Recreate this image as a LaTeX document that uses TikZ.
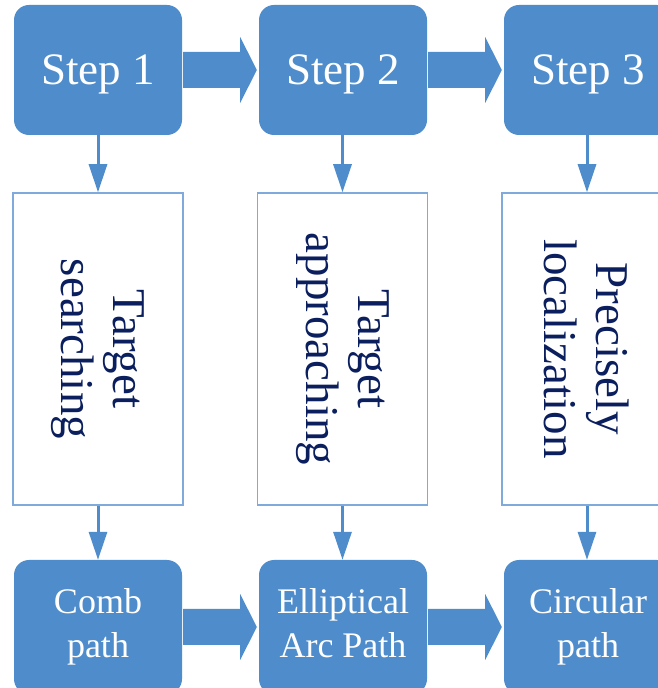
\documentclass[tikz,border=0pt]{standalone}
\usepackage{fontspec}
\setmainfont{Liberation Serif}
\usetikzlibrary{arrows.meta,calc}
\definecolor{boxblue}{HTML}{4F8CCB}
\definecolor{edgeblue}{HTML}{7FAADB}
\definecolor{navy}{HTML}{0B1F5E}
\newcommand\blockarr[2]{%
  \fill[boxblue] ($(#1.east)+(1,18)$) -- ++(57,0) -- ++(0,15)
    -- ($(#2.west)+(-2,0)$) -- ($(#1.east)+(58,-33)$) -- ++(0,15)
    -- ($(#1.east)+(1,-18)$) -- cycle;}
\begin{document}
\begin{tikzpicture}[x=1pt,y=1pt,
  stepbox/.style={fill=boxblue,draw=none,rounded corners=15pt,minimum width=168pt,minimum height=130pt,
     text=white,font=\fontsize{45}{50}\selectfont,text depth=0pt,inner sep=0pt},
  midbox/.style={fill=white,draw=edgeblue,line width=1.5pt,minimum width=170pt,minimum height=312pt,inner sep=0pt},
  midtext/.style={rotate=-90,text=navy,align=center,font=\fontsize{47}{52}\selectfont,inner sep=0pt},
  pathbox/.style={fill=boxblue,draw=none,rounded corners=15pt,minimum width=168pt,minimum height=134pt,
     text=white,align=center,font=\fontsize{36}{44}\selectfont,text depth=8pt,inner sep=0pt},
  downarr/.style={draw=boxblue,line width=3pt,-{Triangle[width=18pt,length=28pt]}}]
\useasboundingbox (0,0) rectangle (658,688);
\clip (0,0) rectangle (658,688);
\fill[white] (0,0) rectangle (658,688);
% top boxes
\node[stepbox] (s1) at (98,618) {Step 1};
\node[stepbox] (s2) at (343,618) {Step 2};
\node[stepbox] (s3) at (588,618) {Step 3};
% middle boxes
\node[midbox] (m1) at (98,339) {};
\node[midbox] (m2) at (342.5,339) {};
\node[midbox] (m3) at (587,339) {};
\node[midtext] (t1) at (m1.center) {Target\\searching};
\node[midtext] (t2) at (m2.center) {Target\\approaching};
\node[midtext] (t3) at (m3.center) {Precisely\\localization};
% bottom boxes
\node[pathbox] (b1) at (98,61) {Comb\\path};
\node[pathbox] (b2) at (343,61) {Elliptical\\Arc Path};
\node[pathbox] (b3) at (588,61) {Circular\\path};
% block arrows
\blockarr{s1}{s2}
\blockarr{s2}{s3}
\blockarr{b1}{b2}
\blockarr{b2}{b3}
% down arrows
\draw[downarr] (s1.south -| m1.north) -- (m1.north);
\draw[downarr] (s2.south -| m2.north) -- (m2.north);
\draw[downarr] (s3.south -| m3.north) -- (m3.north);
\draw[downarr] (m1.south) -- (m1.south |- b1.north);
\draw[downarr] (m2.south) -- (m2.south |- b2.north);
\draw[downarr] (m3.south) -- (m3.south |- b3.north);
\end{tikzpicture}
\end{document}
